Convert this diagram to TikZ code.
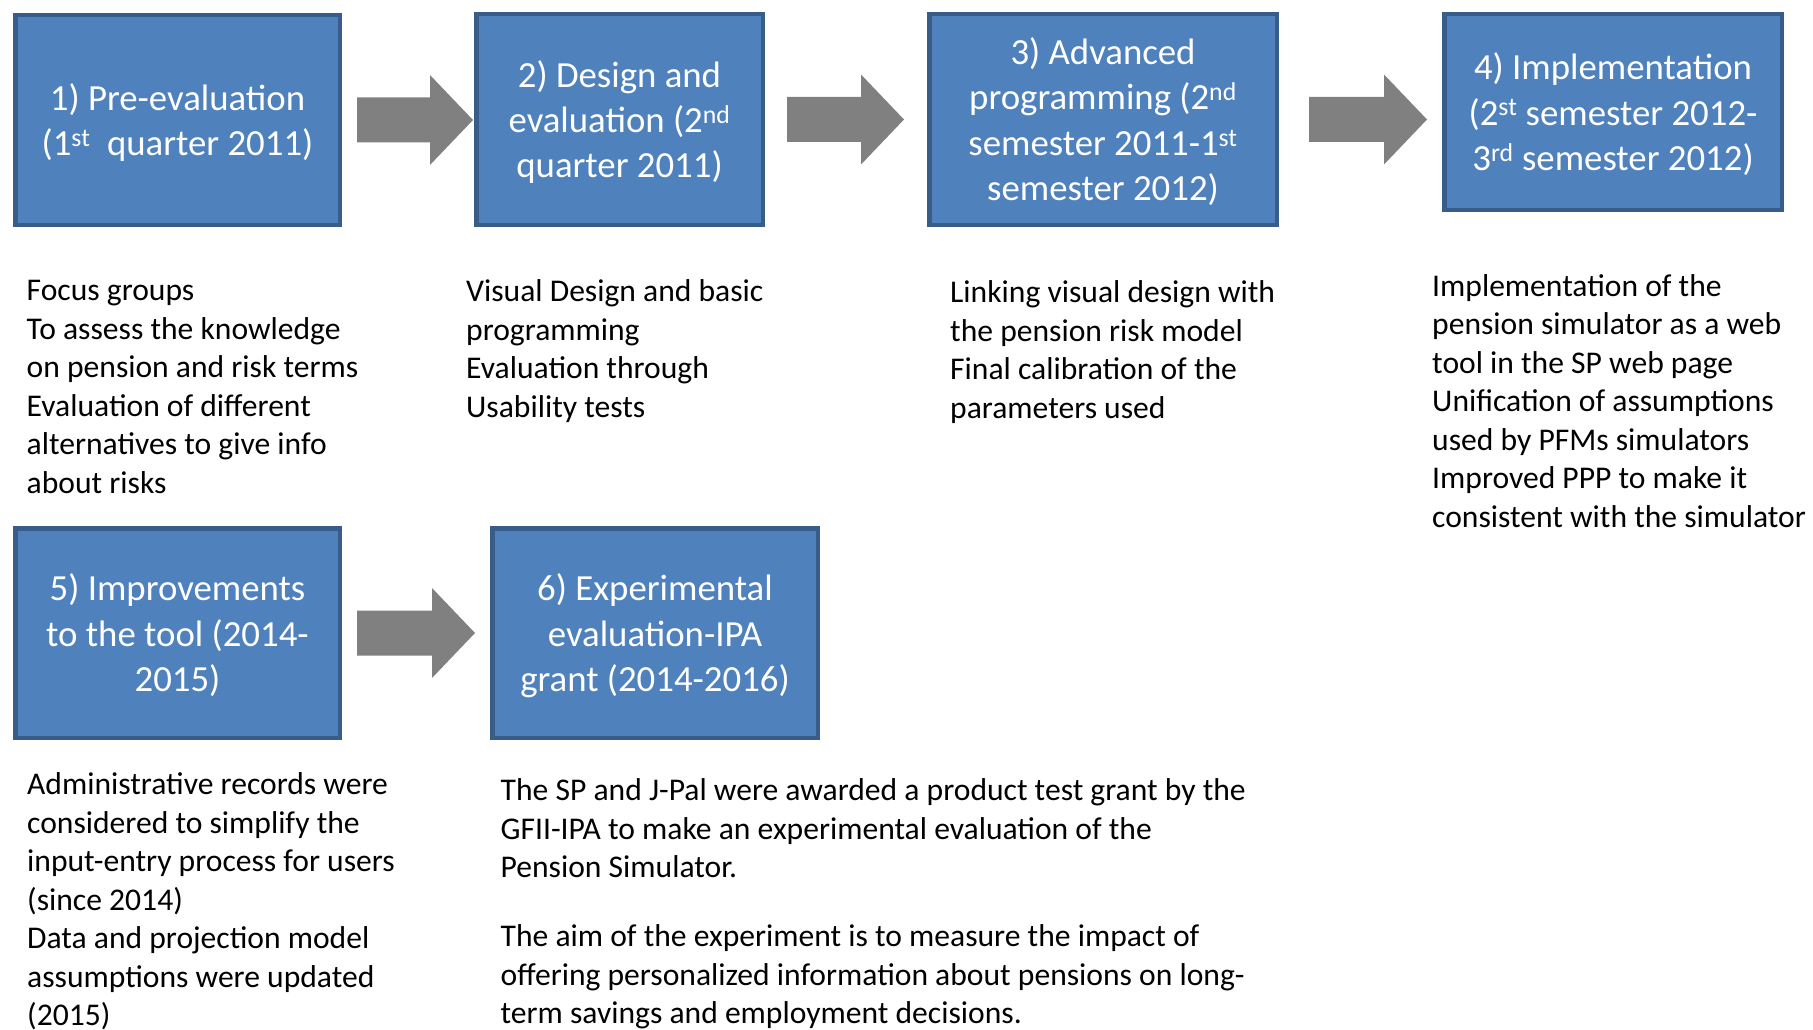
\documentclass[tikz,border=0pt]{standalone}
\usepackage{fontspec}
\setmainfont{Carlito}
\usetikzlibrary{calc}

\definecolor{stagefill}{HTML}{4F81BD}
\definecolor{stageedge}{HTML}{385D8A}
\definecolor{arrowgray}{HTML}{808080}

\tikzset{
  stage/.style={draw=stageedge, line width=4.5pt, fill=stagefill, text=white,
    inner sep=0pt, font=\fontsize{36.8}{45.1}\selectfont},
  notes/.style={anchor=base west, inner sep=0pt, text=black,
    font=\fontsize{31.6}{38.5}\selectfont},
}

% centred lines of a stage title, evenly spaced, set a little low
\newcommand\stagelines[1]{\raisebox{-4pt}[\height][\depth]{\renewcommand\arraystretch{1}%
  \begin{tabular}{@{}c@{}}#1\end{tabular}}}

% left-aligned block of lines whose baseline is the first line
\newcommand\notelines[1]{\renewcommand\arraystretch{1}%
  \begin{tabular}[t]{@{}l@{}}#1\end{tabular}}

% block arrow from a tail point #1 to a tip point #2 (same height)
\newcommand\flowarrow[2]{%
  \fill[arrowgray] let \p1=(#1), \p2=(#2) in
    (\x1,{\y1+22.5pt}) -- ({\x2-43pt},{\y1+22.5pt}) -- ({\x2-43pt},{\y1+45pt})
    -- (\x2,\y1) -- ({\x2-43pt},{\y1-45pt}) -- ({\x2-43pt},{\y1-22.5pt})
    -- (\x1,{\y1-22.5pt}) -- cycle;}

\begin{document}
\begin{tikzpicture}[x=1pt,y=-1pt]
\useasboundingbox (0,0) rectangle (1813,1030);

% stages
\node[stage, minimum width=324.5pt, minimum height=209.5pt] (b1) at (177.5,120)
  {\stagelines{1) Pre-evaluation\\(1\textsuperscript{st}\ \ quarter 2011)}};
\node[stage, minimum width=286.5pt, minimum height=210.5pt] (b2) at (619.5,119.5)
  {\stagelines{2) Design and\\evaluation (2\textsuperscript{nd}\\quarter 2011)}};
\node[stage, minimum width=347.5pt, minimum height=210.5pt] (b3) at (1103,119.5)
  {\stagelines{3) Advanced\\programming (2\textsuperscript{nd}\\semester 2011-1\textsuperscript{st}\\semester 2012)}};
\node[stage, minimum width=337.5pt, minimum height=195.5pt] (b4) at (1613,112)
  {\stagelines{4) Implementation\\(2\textsuperscript{st} semester 2012-\\3\textsuperscript{rd} semester 2012)}};
\node[stage, minimum width=324.5pt, minimum height=209.5pt] (b5) at (177.5,633)
  {\stagelines{5) Improvements\\to the tool (2014-\\2015)}};
\node[stage, minimum width=325.5pt, minimum height=209.5pt] (b6) at (655,633)
  {\stagelines{6) Experimental\\evaluation-IPA\\grant (2014-2016)}};

% arrows between stages
\coordinate (a1s) at ($(b1.east)+(15,0)$);
\coordinate (a1t) at ($(b1.east -| b2.west)+(-1,0)$);
\coordinate (a2s) at ($(b2.east)+(22,0)$);
\coordinate (a2t) at ($(b2.east -| b3.west)+(-23,0)$);
\coordinate (a3s) at ($(b3.east)+(30,0)$);
\coordinate (a3t) at ($(b3.east -| b4.west)+(-15,0)$);
\coordinate (a4s) at ($(b5.east)+(15,0)$);
\coordinate (a4t) at ($(b5.east -| b6.west)+(-15,0)$);
\flowarrow{a1s}{a1t}
\flowarrow{a2s}{a2t}
\flowarrow{a3s}{a3t}
\flowarrow{a4s}{a4t}

% descriptions
\node[notes] (t1) at (26.5,300.5) {\notelines{Focus groups\\To assess the knowledge\\on pension and risk terms\\Evaluation of different\\alternatives to give info\\about risks}};
\node[notes] (t2) at (466,301.5) {\notelines{Visual Design and basic\\programming\\Evaluation through\\Usability tests}};
\node[notes] (t3) at (950,302.5) {\notelines{Linking visual design with\\the pension risk model\\Final calibration of the\\parameters used}};
\node[notes] (t4) at (1432,296) {\notelines{Implementation of the\\pension simulator as a web\\tool in the SP web page\\Unification of assumptions\\used by PFMs simulators\\Improved PPP to make it\\consistent with the simulator}};
\node[notes] (t5) at (27,794.5) {\notelines{Administrative records were\\considered to simplify the\\input-entry process for users\\(since 2014)\\Data and projection model\\assumptions were updated\\(2015)}};
\node[notes] (t6) at (500.5,800.5) {\notelines{The SP and J-Pal were awarded a product test grant by the\\GFII-IPA to make an experimental evaluation of the\\Pension Simulator.\\[30.5pt]The aim of the experiment is to measure the impact of\\offering personalized information about pensions on long-\\term savings and employment decisions.}};
\end{tikzpicture}
\end{document}
